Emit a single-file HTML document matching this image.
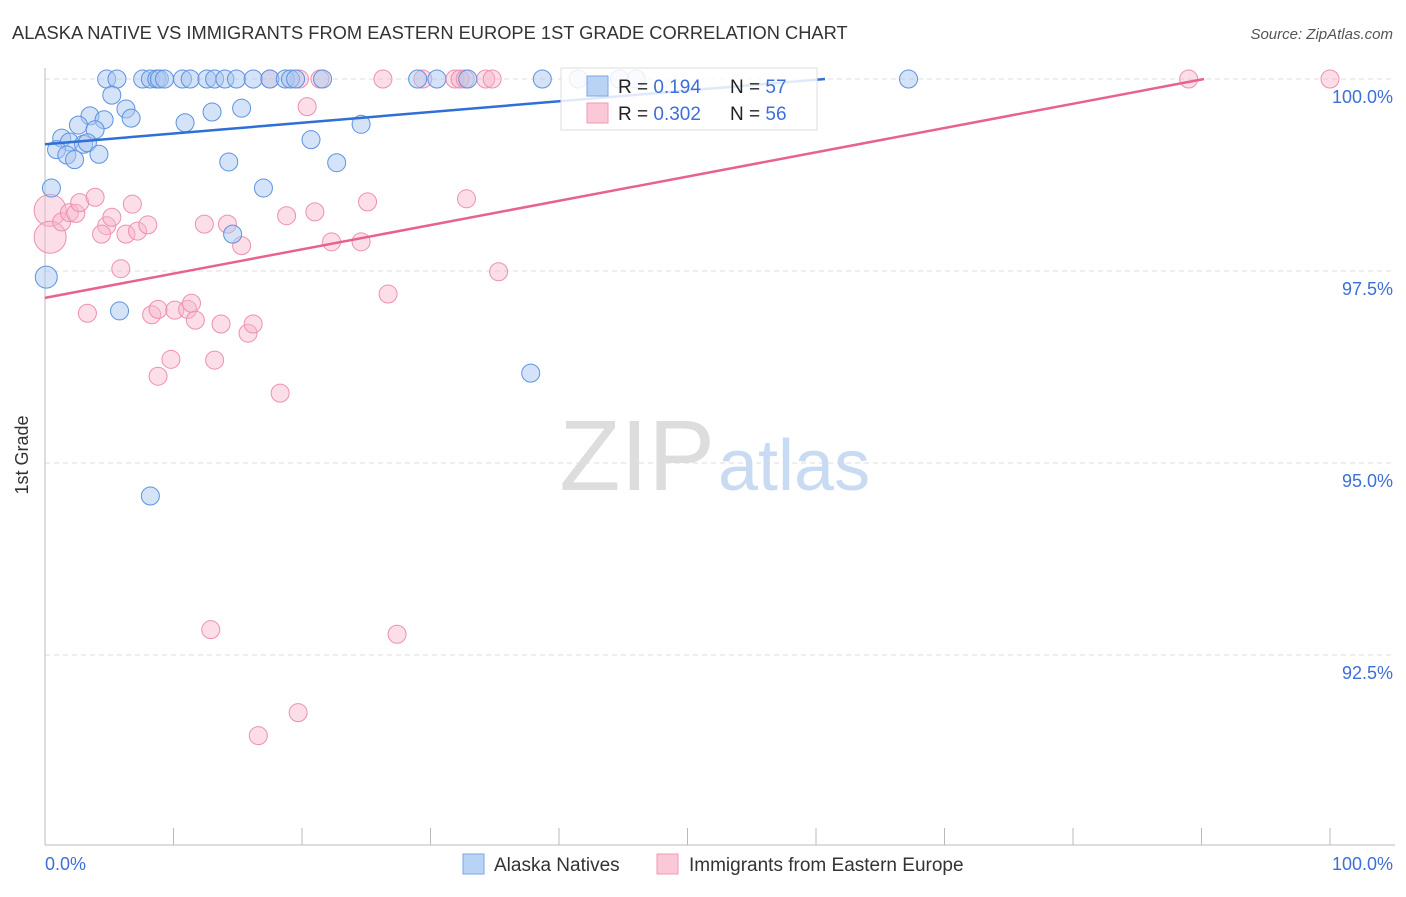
<!DOCTYPE html>
<html><head><meta charset="utf-8"><style>
body{margin:0;background:#fff;font-family:"Liberation Sans",Arial,sans-serif}
svg text{font-family:"Liberation Sans",Arial,sans-serif}
</style></head><body>
<svg width="1406" height="892" viewBox="0 0 1406 892">
<text x="12" y="39" font-size="18.3" fill="#333">ALASKA NATIVE VS IMMIGRANTS FROM EASTERN EUROPE 1ST GRADE CORRELATION CHART</text>
<text x="1393" y="39" font-size="15" fill="#555" font-style="italic" text-anchor="end">Source: ZipAtlas.com</text>
<g id="grid"></g>
<text x="715" y="490" font-size="100" fill="#ddd" text-anchor="end" font-family="Liberation Serif,serif">ZIP</text>
<text x="718" y="490" font-size="72" fill="#c9dbf3">atlas</text>
<g id="pts"></g>
<g id="lines"></g>
<text x="28" y="455" font-size="18" fill="#333" transform="rotate(-90 28 455)" text-anchor="middle">1st Grade</text>
<g>
<rect x="561" y="68" width="256" height="62" fill="#fff" fill-opacity="0.85" stroke="#ddd"/>
<rect x="587" y="76" width="21" height="20" fill="#b9d3f5" stroke="#7aa6e6"/>
<rect x="587" y="103" width="21" height="20" fill="#fbc8d8" stroke="#f09ab6"/>
<text x="618" y="93" font-size="19" fill="#222">R = <tspan fill="#3d6fd8">0.194</tspan><tspan x="730">N = </tspan><tspan fill="#3d6fd8">57</tspan></text>
<text x="618" y="120" font-size="19" fill="#222">R = <tspan fill="#3d6fd8">0.302</tspan><tspan x="730">N = </tspan><tspan fill="#3d6fd8">56</tspan></text>
</g>
<text x="45" y="870" font-size="18" fill="#3d6fd8">0.0%</text>
<text x="1393" y="870" font-size="18" fill="#3d6fd8" text-anchor="end">100.0%</text>
<g>
<rect x="463" y="854" width="21" height="20" fill="#b9d3f5" stroke="#7aa6e6"/>
<text x="494" y="871" font-size="19" fill="#333">Alaska Natives</text></g>
<g>
<rect x="657" y="854" width="21" height="20" fill="#fbc8d8" stroke="#f09ab6"/>
<text x="689" y="871" font-size="19" fill="#333">Immigrants from Eastern Europe</text></g>
</svg>
<script>
const yTicks=[100,97.5,95,92.5];
const yTickLabels=["100.0%","97.5%","95.0%","92.5%"];
const xTicks=[0,10,20,30,40,50,60,70,80,90,100];
const blueX=[4.8,5.6,7.6,8.2,8.7,8.9,9.3,10.7,11.3,12.6,13.2,14.0,14.9,16.2,17.5,18.7,19.1,19.5,21.6,29.0,30.5,32.9,38.7,41.5,44.7,46.0,67.2,5.2,6.3,3.5,4.6,6.7,2.6,3.9,1.3,1.9,3.0,3.3,0.9,1.7,2.3,4.2,10.9,13.0,15.3,14.3,20.7,24.6,22.7,0.5,17.0,14.6,0.1,5.8,37.8,8.2];
const blueY=[100,100,100,100,100,100,100,100,100,100,100,100,100,100,100,100,100,100,100,100,100,100,100,100,100,100,100,99.79,99.61,99.52,99.47,99.49,99.40,99.34,99.23,99.18,99.15,99.17,99.08,99.01,98.95,99.02,99.43,99.57,99.62,98.92,99.21,99.41,98.91,98.58,98.58,97.98,97.42,96.98,96.17,94.57];
const pinkX=[17.5,19.8,21.4,26.3,29.4,31.9,32.3,32.7,34.3,34.8,89.0,100.0,20.4,0.4,0.4,1.3,1.9,2.4,2.7,3.9,4.8,5.2,4.4,6.3,7.2,8.0,6.8,12.4,14.2,15.3,18.8,21.0,22.3,24.6,25.1,32.8,5.9,35.3,3.3,8.3,8.8,10.1,11.1,11.4,11.7,13.7,15.8,16.2,9.8,8.8,13.2,18.3,26.7,12.9,27.4,19.7,16.6];
const pinkY=[100,100,100,100,100,100,100,100,100,100,100,100,99.64,98.29,97.94,98.14,98.26,98.25,98.39,98.46,98.09,98.20,97.98,97.98,98.02,98.10,98.37,98.11,98.11,97.83,98.22,98.27,97.88,97.88,98.40,98.44,97.53,97.49,96.95,96.93,97.00,96.99,97.00,97.08,96.86,96.81,96.69,96.81,96.35,96.13,96.34,95.91,97.20,92.83,92.77,91.75,91.45];
const blueLine=[0,99.15,60.7,100];
const pinkLine=[0,97.15,90.2,100];
const NS="http://www.w3.org/2000/svg";
const xs=v=>45+v*12.85, ys=v=>79+(100-v)*76.8;
function mk(t,a,p){const e=document.createElementNS(NS,t);for(const k in a)e.setAttribute(k,a[k]);p.appendChild(e);return e;}
const g=document.getElementById('grid');
yTicks.forEach((t,i)=>{
 const l=mk('line',{x1:45,x2:1395,y1:ys(t),y2:ys(t),stroke:'#ddd','stroke-dasharray':'5,4'},g);
 
 
 const tx=mk('text',{x:1393,y:ys(t)+24,'font-size':18,fill:'#3d6fd8','text-anchor':'end'},g);
 tx.textContent=yTickLabels[i];
 
 
});
const ax=mk('line',{x1:45,x2:45,y1:68,y2:845,stroke:'#bbb'},g);


const bx=mk('line',{x1:45,x2:1395,y1:845,y2:845,stroke:'#bbb'},g);


xTicks.forEach(t=>{const l=mk('line',{x1:xs(t),x2:xs(t),y1:828,y2:845,stroke:'#bbb'},g);
 
 });
const p=document.getElementById('pts');
pinkX.forEach((x,i)=>{const big=(i==13||i==14);
 const c=mk('circle',{cx:xs(x),cy:ys(pinkY[i]),r:big?16:9,fill:'#f7b6cb','fill-opacity':0.45,stroke:'#ee8fb0','stroke-width':1},p);
 
 });
blueX.forEach((x,i)=>{
 const c=mk('circle',{cx:xs(x),cy:ys(blueY[i]),r:i==52?11:9,fill:'#a9c8f0','fill-opacity':0.5,stroke:'#5d92e0','stroke-width':1},p);
 
 });
const L=document.getElementById('lines');
const bl=mk('line',{x1:xs(blueLine[0]),y1:ys(blueLine[1]),x2:xs(blueLine[2]),y2:ys(blueLine[3]),stroke:'#2f6fd6','stroke-width':2.5},L);


const pl=mk('line',{x1:xs(pinkLine[0]),y1:ys(pinkLine[1]),x2:xs(pinkLine[2]),y2:ys(pinkLine[3]),stroke:'#e8628f','stroke-width':2.5},L);


</script>
</body></html>
